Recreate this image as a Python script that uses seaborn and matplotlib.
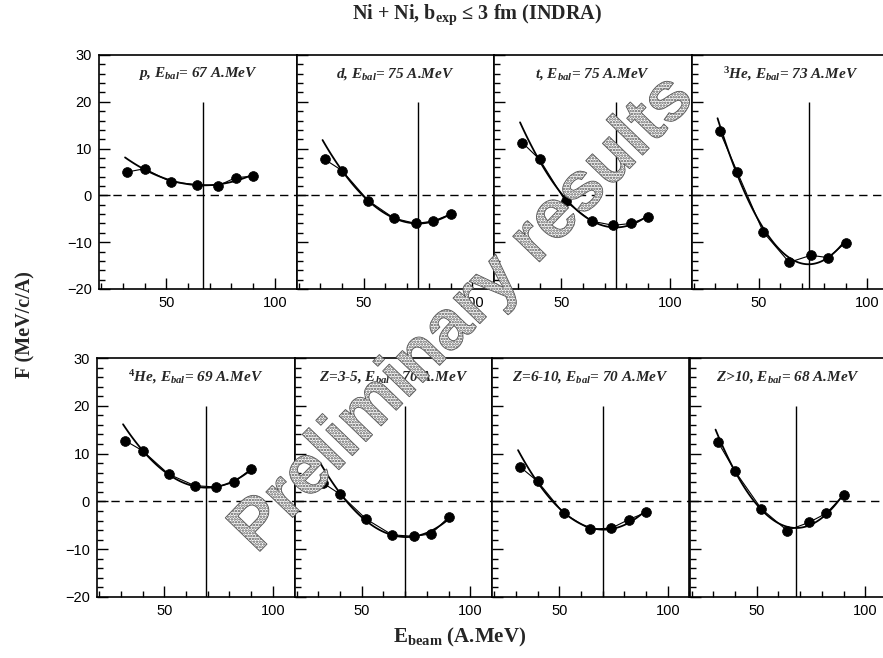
import numpy as np
import pandas as pd
import matplotlib
matplotlib.use("Agg")
import matplotlib.pyplot as plt
import seaborn as sns
from matplotlib.ticker import MultipleLocator, FixedLocator
from matplotlib.textpath import TextPath
from matplotlib.font_manager import FontProperties
from matplotlib.patches import PathPatch
from matplotlib.transforms import Affine2D

# ---------------- data ----------------
energies = [32, 40, 52, 64, 74, 82, 90]
panel_labels = [r"$p$, $E_{bal}$= 67 A.MeV",
                r"$d$, $E_{bal}$= 75 A.MeV",
                r"$t$, $E_{bal}$= 75 A.MeV",
                r"$^{\mathit{3}}$$He$, $E_{bal}$= 73 A.MeV",
                r"$^{\mathit{4}}$$He$, $E_{bal}$= 69 A.MeV",
                r"$Z$=3-5, $E_{bal}$= 70 A.MeV",
                r"$Z$=6-10, $E_{bal}$= 70 A.MeV",
                r"$Z$>10, $E_{bal}$= 68 A.MeV"]
e_bal = [67, 75, 75, 73, 69, 70, 70, 68]
F_p = [5.0, 5.7, 2.9, 2.3, 2.1, 3.8, 4.1]
F_d = [7.7, 5.3, -1.1, -4.9, -6.0, -5.5, -4.0]
F_t = [11.3, 7.7, -1.3, -5.5, -6.4, -6.0, -4.6]
F_he3 = [13.7, 5.1, -7.8, -14.3, -12.8, -13.3, -10.1]
F_he4 = [12.7, 10.6, 5.7, 3.3, 3.0, 4.0, 6.8]
F_z35 = [3.9, 1.5, -3.7, -7.0, -7.3, -6.8, -3.3]
F_z610 = [7.2, 4.2, -2.5, -5.8, -5.6, -3.8, -2.3]
F_z10 = [12.5, 6.3, -1.5, -6.1, -4.4, -2.5, 1.3]
series = [F_p, F_d, F_t, F_he3, F_he4, F_z35, F_z610, F_z10]
y_ticks = [-20, -10, 0, 10, 20, 30]
x_ticks = [50, 100]

# ---------------- style ----------------
sns.set_theme(style="ticks")
plt.rcParams.update({
    "font.family": ["Liberation Sans", "DejaVu Sans"],
    "mathtext.fontset": "custom",
    "mathtext.rm": "Liberation Serif:bold",
    "mathtext.it": "Liberation Serif:italic:bold",
    "mathtext.bf": "Liberation Serif:bold",
    "axes.edgecolor": "black",
    "axes.linewidth": 1.2,
    "hatch.linewidth": 1.2,
})

W, H = 883, 658
fig = plt.figure(figsize=(W / 100, H / 100), dpi=100)

rows = [dict(top=55, bottom=289, left=99), dict(top=358, bottom=597, left=97)]
pw = 197.5

for i, F in enumerate(series):
    r, c = divmod(i, 4)
    row = rows[r]
    left = row["left"] + c * pw
    ax = fig.add_axes([left / W, 1 - row["bottom"] / H, pw / W,
                       (row["bottom"] - row["top"]) / H])
    df = pd.DataFrame({"E": energies, "F": F})

    # fitted curve (library regression), excluding the lowest energy
    ax.set_xlim(31, 90)
    sns.regplot(data=df.iloc[1:], x="E", y="F", order=2, ci=None,
                scatter=False, truncate=False, ax=ax,
                line_kws=dict(color="black", lw=1.3))
    # data connected + markers
    sns.lineplot(data=df, x="E", y="F", ax=ax, color="black", lw=0.8,
                 estimator=None, sort=True)
    sns.scatterplot(data=df, x="E", y="F", ax=ax, color="black", s=50,
                    edgecolor="black", linewidth=0.5, zorder=5)

    ax.axhline(0, color="black", lw=1.0, ls=(0, (6, 4)))
    ax.vlines(e_bal[i], -20, 20, color="black", lw=1.0)

    ax.set_xlim(19, 110)
    ax.set_ylim(-20, 30)
    ax.xaxis.set_major_locator(FixedLocator(x_ticks))
    ax.xaxis.set_minor_locator(MultipleLocator(10))
    ax.yaxis.set_major_locator(FixedLocator(y_ticks))
    ax.yaxis.set_minor_locator(MultipleLocator(2))
    ax.tick_params(which="both", direction="in", top=False, right=False,
                   colors="black", width=1.0)
    ax.tick_params(which="major", length=8, labelsize=10.5, pad=5)
    ax.tick_params(which="minor", length=4)
    if c != 0:
        ax.set_yticklabels([])
    ax.set_xlabel("")
    ax.set_ylabel("")
    for s in ax.spines.values():
        s.set_visible(True)
        s.set_color("black")
    ax.text(0.5, 0.92, panel_labels[i], transform=ax.transAxes,
            ha="center", va="center", fontsize=11,
            family="Liberation Serif", weight="bold", style="italic")

# titles / labels
fig.text(477 / W, 1 - 15 / H, r"Ni + Ni, $\mathbf{b_{exp}}$ ≤ 3 fm (INDRA)",
         ha="center", va="center", fontsize=14.5,
         family=["Liberation Serif", "DejaVu Serif"], weight="bold")
fig.text(460 / W, 1 - 637 / H, r"$\mathbf{E_{beam}}$ (A.MeV)",
         ha="center", va="center", fontsize=15,
         family="Liberation Serif", weight="bold")
fig.text(25 / W, 1 - 325 / H, "F (MeV/c/A)", rotation=90,
         ha="center", va="center", fontsize=14.5,
         family="Liberation Serif", weight="bold")

# watermark
fp = FontProperties(family="Liberation Sans", weight="bold")
tp = TextPath((0, 0), "Preliminary results", size=1, prop=fp)
ext = tp.get_extents()
L = 625
scale = (L / 100) / ext.width
cx, cy = 464, H - 314
trans = (Affine2D().translate(-(ext.x0 + ext.width / 2), -(ext.y0 + ext.height / 2))
         .scale(scale).rotate_deg(46).translate(cx / 100, cy / 100)
         + fig.dpi_scale_trans)
patch = PathPatch(tp, transform=trans, facecolor="white", edgecolor="#555555",
                  hatch="......", lw=0.6, zorder=10)
fig.add_artist(patch)

fig.savefig("out.png", dpi=100)
